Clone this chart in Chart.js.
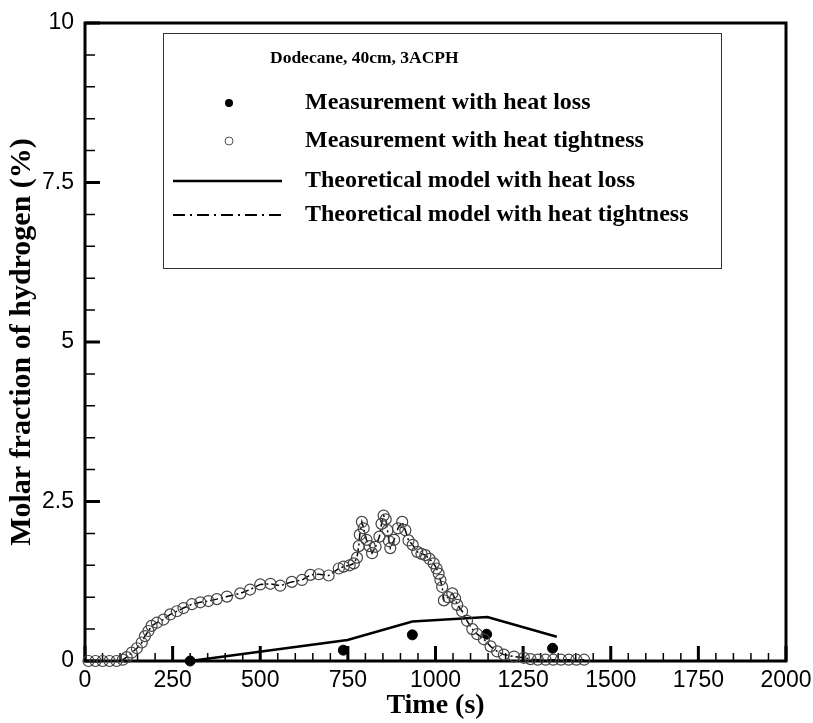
<!DOCTYPE html>
<html>
<head>
<meta charset="utf-8">
<script src="https://cdn.jsdelivr.net/npm/chart.js@4.4.1/dist/chart.umd.min.js"></script>
<style>
html,body{margin:0;padding:0;background:#fff;}
#wrap{width:813px;height:723px;position:relative;}
</style>
</head>
<body>
<div id="wrap"><canvas id="c" width="813" height="723"></canvas></div>
<script>
// ---- data ----
const tightTime = [10,30,50,70,90,108,119,133,148,162,171,181,190,205,224,243,262,281,305,329,352,376,405,443,471,500,529,557,590,619,643,667,695,724,738,755,767,776,781,784,790,795,803,812,819,829,840,846,852,858,863,867,871,882,893,905,914,923,935,948,960,971,983,995,1003,1009,1014,1019,1024,1036,1048,1056,1062,1076,1090,1105,1119,1138,1157,1176,1195,1224,1252,1271,1292,1314,1336,1358,1380,1402,1424];
const tightValue = [0,0,0,0,0,0.02,0.06,0.13,0.2,0.29,0.39,0.47,0.55,0.6,0.65,0.73,0.78,0.83,0.89,0.92,0.94,0.97,1.01,1.06,1.12,1.2,1.21,1.18,1.24,1.27,1.35,1.36,1.34,1.45,1.48,1.5,1.53,1.62,1.8,1.98,2.18,2.08,1.9,1.8,1.69,1.79,1.95,2.15,2.28,2.22,2.05,1.88,1.77,1.9,2.08,2.18,2.05,1.89,1.82,1.71,1.68,1.66,1.6,1.53,1.45,1.37,1.27,1.16,0.95,1.0,1.06,0.98,0.88,0.78,0.63,0.5,0.42,0.34,0.23,0.15,0.1,0.07,0.05,0.03,0.02,0.02,0.02,0.02,0.02,0.02,0.02];
const lossModelTime = [300,749,934,1148,1346];
const lossModelValue = [0,0.33,0.62,0.69,0.38];
const lossMeasTime = [300,737,934,1146,1334];
const lossMeasValue = [0,0.17,0.41,0.42,0.2];
const xTicks = [0,250,500,750,1000,1250,1500,1750,2000];
const yTicks = [0,2.5,5,7.5,10];
const legendTitle = "Dodecane, 40cm, 3ACPH";
const legendLabels = ["Measurement with heat loss","Measurement with heat tightness","Theoretical model with heat loss","Theoretical model with heat tightness"];

const pts = (t,v)=>t.map((x,i)=>({x:x,y:v[i]}));
const SERIF = '"Liberation Serif","Times New Roman",serif';
const SANS = '"Liberation Sans",Arial,sans-serif';

const framePlugin = {
  id:'frame',
  beforeDatasetsDraw(chart){
    const {ctx, chartArea:a, scales:{x,y}} = chart;
    ctx.save();
    ctx.strokeStyle='#000';
    ctx.lineWidth=1.5;
    ctx.beginPath();
    for(let v=0; v<=2000; v+=50){
      if(v%250===0) continue;
      const px=x.getPixelForValue(v);
      ctx.moveTo(px,a.bottom); ctx.lineTo(px,a.bottom-8);
    }
    for(let i=0;i<=20;i++){
      if(i%5===0) continue;
      const py=y.getPixelForValue(i*0.5);
      ctx.moveTo(a.left,py); ctx.lineTo(a.left+10,py);
    }
    ctx.stroke();
    ctx.lineWidth=3;
    ctx.beginPath();
    xTicks.forEach(v=>{const px=x.getPixelForValue(v); ctx.moveTo(px,a.bottom); ctx.lineTo(px,a.bottom-15);});
    yTicks.forEach(v=>{const py=y.getPixelForValue(v); ctx.moveTo(a.left,py); ctx.lineTo(a.left+15,py);});
    ctx.stroke();
    ctx.lineWidth=3;
    ctx.strokeRect(a.left,a.top,a.right-a.left,a.bottom-a.top);
    ctx.restore();
  },
  afterDraw(chart){
    const {ctx} = chart;
    ctx.save();
    const L=163,T=33,R=721,B=268;
    ctx.fillStyle='#fff';
    ctx.fillRect(L,T,R-L,B-T);
    ctx.strokeStyle='#333'; ctx.lineWidth=1;
    ctx.strokeRect(L+0.5,T+0.5,R-L,B-T);
    ctx.fillStyle='#000';
    ctx.textBaseline='middle';
    ctx.textAlign='left';
    ctx.font='bold 17.5px '+SERIF;
    ctx.fillText(legendTitle,270,58);
    ctx.font='bold 24px '+SERIF;
    const ys=[103,141,181,215];
    legendLabels.forEach((s,i)=>ctx.fillText(s,305,ys[i]));
    ctx.beginPath(); ctx.arc(229,ys[0],4,0,Math.PI*2); ctx.fill();
    ctx.beginPath(); ctx.arc(229,ys[1],4,0,Math.PI*2); ctx.strokeStyle='#555'; ctx.lineWidth=1; ctx.stroke();
    ctx.strokeStyle='#000'; ctx.lineWidth=2.5;
    ctx.beginPath(); ctx.moveTo(173,ys[2]); ctx.lineTo(282,ys[2]); ctx.stroke();
    ctx.lineWidth=2; ctx.setLineDash([12,5,2,5]);
    ctx.beginPath(); ctx.moveTo(173,ys[3]); ctx.lineTo(282,ys[3]); ctx.stroke();
    ctx.restore();
  }
};

new Chart(document.getElementById('c'),{
  type:'scatter',
  data:{datasets:[
    {label:legendLabels[1], data:pts(tightTime,tightValue), showLine:false, pointRadius:5.5, pointBorderWidth:1.2, borderColor:'#444', backgroundColor:'rgba(0,0,0,0)', pointStyle:'circle', clip:12},
    {label:legendLabels[3], data:pts(tightTime,tightValue), showLine:true, pointRadius:0, borderWidth:1.5, borderColor:'#000', borderDash:[8,3,2,3], clip:12},
    {label:legendLabels[2], data:pts(lossModelTime,lossModelValue), showLine:true, pointRadius:0, borderWidth:2.5, borderColor:'#000', clip:12},
    {label:legendLabels[0], data:pts(lossMeasTime,lossMeasValue), showLine:false, pointRadius:5, borderColor:'#000', backgroundColor:'#000', clip:12}
  ]},
  options:{
    responsive:false, animation:false, devicePixelRatio:1,
    layout:{padding:{top:23,right:27,left:0,bottom:0}},
    plugins:{legend:{display:false}, tooltip:{enabled:false}},
    scales:{
      x:{type:'linear', min:0, max:2000,
        afterBuildTicks(s){s.ticks=xTicks.map(v=>({value:v}));},
        afterFit(s){s.height=62; s.paddingRight=0; s.paddingLeft=0;},
        grid:{display:false, drawTicks:false}, border:{display:false},
        ticks:{color:'#000', font:{family:SANS,size:23}, padding:6, maxRotation:0, autoSkip:false, callback:(v)=>String(v)},
        title:{display:true, text:'Time (s)', color:'#000', font:{family:SERIF,size:28,weight:'bold'}, padding:{top:0,bottom:0}}
      },
      y:{type:'linear', min:0, max:10,
        afterBuildTicks(s){s.ticks=yTicks.map(v=>({value:v}));},
        afterFit(s){s.width=85; s.paddingTop=0; s.paddingBottom=0;},
        grid:{display:false, drawTicks:false}, border:{display:false},
        ticks:{color:'#000', font:{family:SANS,size:23}, padding:11, autoSkip:false, callback:(v)=>String(v)},
        title:{display:true, text:'Molar fraction of hydrogen (%)', color:'#000', font:{family:SERIF,size:30,weight:'bold'}, padding:{top:4,bottom:0}}
      }
    }
  },
  plugins:[framePlugin]
});
</script>
</body>
</html>
